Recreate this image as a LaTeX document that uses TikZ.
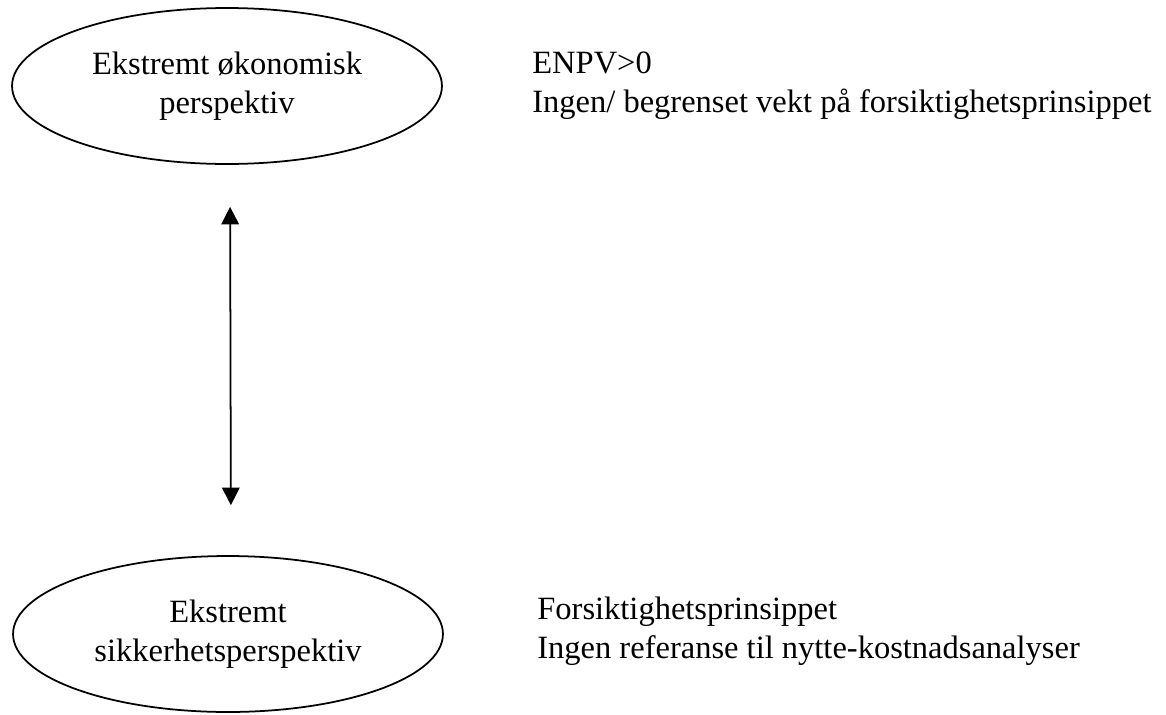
\documentclass[tikz,border=0pt]{standalone}
\usepackage{fontspec}
\setmainfont{Liberation Serif}
\usetikzlibrary{shapes.geometric,arrows.meta}
\begin{document}
\begin{tikzpicture}[x=0.02cm,y=-0.02cm,font=\fontsize{18.5}{22}\selectfont,
  perspektiv/.style={ellipse,draw,line width=1pt,minimum width=8.6cm,minimum height=3.12cm,inner sep=0pt,align=center},
  merknad/.style={anchor=base west,align=left,inner sep=0pt}]
      \useasboundingbox (0,0) rectangle (1166,714);
      \node[perspektiv] (okonomi) at (227,86) {Ekstremt økonomisk\\perspektiv};
      \node[perspektiv] (sikkerhet) at (228,634) {Ekstremt\\sikkerhetsperspektiv};
      \draw[{Triangle[width=10pt,length=10pt]}-{Triangle[width=10pt,length=10pt]},line width=1pt,shorten <=0.84cm,shorten >=1cm]
        ([xshift=0.06cm]okonomi.south) -- ([xshift=0.06cm]sikkerhet.north);
      \node[merknad] (okonomitekst) at (532,112) {ENPV>0\\Ingen/ begrenset vekt på forsiktighetsprinsippet};
      \node[merknad] (sikkerhettekst) at (537,658) {Forsiktighetsprinsippet\\Ingen referanse til nytte-kostnadsanalyser};
\end{tikzpicture}
\end{document}
